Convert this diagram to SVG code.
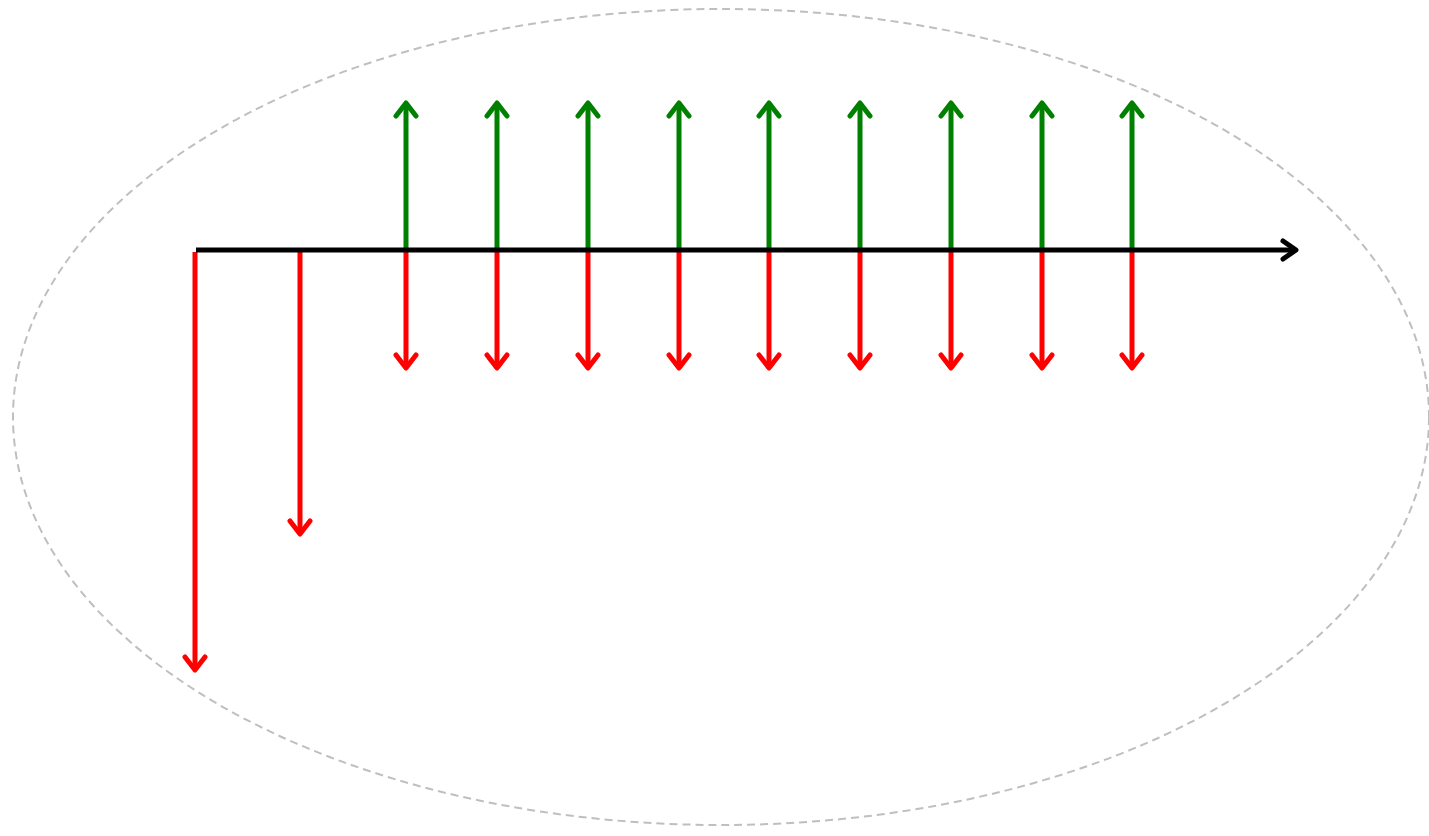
<svg xmlns="http://www.w3.org/2000/svg" width="1429" height="836" viewBox="0 0 1429 836">
<style>
.r{stroke:#ff0000;stroke-width:5;fill:none}
.g{stroke:#008000;stroke-width:5;fill:none}
.k{stroke:#000;stroke-width:5;fill:none}
</style>
<defs>
<marker id="mr" markerUnits="userSpaceOnUse" markerWidth="30" markerHeight="30" refX="16" refY="15" orient="auto" viewBox="0 0 30 30"><path d="M3,5 L16,15 L3,25" fill="none" stroke="#ff0000" stroke-width="5" stroke-linecap="round" stroke-linejoin="round"/></marker>
<marker id="mg" markerUnits="userSpaceOnUse" markerWidth="30" markerHeight="30" refX="16" refY="15" orient="auto" viewBox="0 0 30 30"><path d="M3,5 L16,15 L3,25" fill="none" stroke="#008000" stroke-width="5" stroke-linecap="round" stroke-linejoin="round"/></marker>
<marker id="mk" markerUnits="userSpaceOnUse" markerWidth="30" markerHeight="30" refX="16" refY="15" orient="auto" viewBox="0 0 30 30"><path d="M3,6 L16,15 L3,24" fill="none" stroke="#000" stroke-width="5" stroke-linecap="round" stroke-linejoin="round"/></marker>
</defs>
<rect width="1429" height="836" fill="#fff"/>
<ellipse id="boundary" cx="721" cy="417" rx="708" ry="408" fill="none" stroke="#bfbfbf" stroke-width="2" stroke-dasharray="8,5"/>
<g id="connectors">
<line class="g" x1="406" y1="250" x2="406" y2="103" marker-end="url(#mg)"/>
<line class="g" x1="497" y1="250" x2="497" y2="103" marker-end="url(#mg)"/>
<line class="g" x1="588" y1="250" x2="588" y2="103" marker-end="url(#mg)"/>
<line class="g" x1="679" y1="250" x2="679" y2="103" marker-end="url(#mg)"/>
<line class="g" x1="769" y1="250" x2="769" y2="103" marker-end="url(#mg)"/>
<line class="g" x1="860" y1="250" x2="860" y2="103" marker-end="url(#mg)"/>
<line class="g" x1="951" y1="250" x2="951" y2="103" marker-end="url(#mg)"/>
<line class="g" x1="1042" y1="250" x2="1042" y2="103" marker-end="url(#mg)"/>
<line class="g" x1="1132" y1="250" x2="1132" y2="103" marker-end="url(#mg)"/>
<line class="r" x1="195" y1="252" x2="195" y2="670" marker-end="url(#mr)"/>
<line class="r" x1="300" y1="252" x2="300" y2="534" marker-end="url(#mr)"/>
<line class="r" x1="406" y1="250" x2="406" y2="368" marker-end="url(#mr)"/>
<line class="r" x1="497" y1="250" x2="497" y2="368" marker-end="url(#mr)"/>
<line class="r" x1="588" y1="250" x2="588" y2="368" marker-end="url(#mr)"/>
<line class="r" x1="679" y1="250" x2="679" y2="368" marker-end="url(#mr)"/>
<line class="r" x1="769" y1="250" x2="769" y2="368" marker-end="url(#mr)"/>
<line class="r" x1="860" y1="250" x2="860" y2="368" marker-end="url(#mr)"/>
<line class="r" x1="951" y1="250" x2="951" y2="368" marker-end="url(#mr)"/>
<line class="r" x1="1042" y1="250" x2="1042" y2="368" marker-end="url(#mr)"/>
<line class="r" x1="1132" y1="250" x2="1132" y2="368" marker-end="url(#mr)"/>
<line class="k" x1="196" y1="250" x2="1296" y2="250" marker-end="url(#mk)"/>
</g>
</svg>
